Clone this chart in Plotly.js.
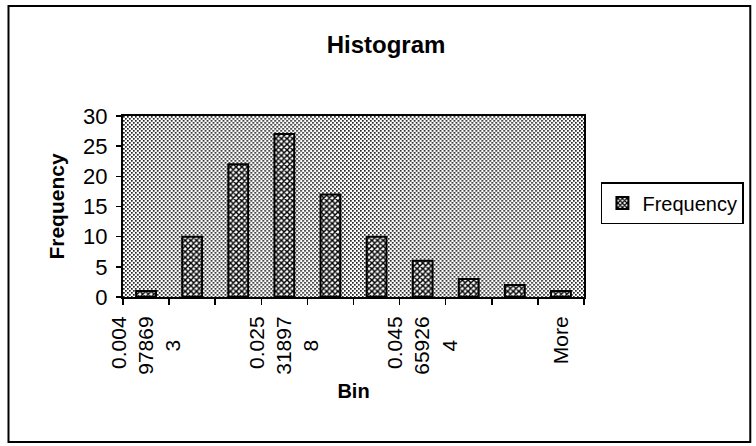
<!DOCTYPE html>
<html>
<head>
<meta charset="utf-8">
<script src="https://cdn.plot.ly/plotly-3.0.1.min.js"></script>
<style>
  html, body { margin: 0; padding: 0; background: #fff; }
  #chart { width: 756px; height: 446px; }
</style>
</head>
<body>
<div id="chart"></div>
<script>
// ---- data ----
var bins = ["0.004978693", "0.011758788", "0.018538883", "0.025318978", "0.032099073",
            "0.038879169", "0.045659264", "0.052439359", "0.059219454", "More"];
var frequency = [1, 10, 22, 27, 17, 10, 6, 3, 2, 1];
var seriesName = "Frequency";
var chartTitle = "Histogram";
var xTitle = "Bin";
var yTitle = "Frequency";

// Excel-style wrapped tick labels (5 characters per line, short last line centred)
function wrapLabel(s) {
  if (s.length <= 5) return s;
  var parts = [];
  for (var i = 0; i < s.length; i += 5) parts.push(s.slice(i, i + 5));
  var last = parts[parts.length - 1];
  var pad = 5 - last.length; // missing digits; half of them (= pad nbsp) on the end side
  parts[parts.length - 1] = last + new Array(pad + 1).join("\u00a0");
  return parts.join("<br>");
}
var categories = bins.map(wrapLabel);

// ---- plot area geometry (pixels) ----
var L = 123, R = 586, T = 116, B = 297, W = 756, H = 446;
var pw = R - L, ph = B - T;
function px2x(p) { return (p - L) / pw; }
function py2y(p) { return (B - p) / ph; }

// stippled background for the plot area
var svg = '<svg xmlns="http://www.w3.org/2000/svg" width="' + pw + '" height="' + ph + '">' +
  '<defs><pattern id="p" width="4" height="4" patternUnits="userSpaceOnUse">' +
  '<rect width="4" height="4" fill="#ffffff"/>' +
  '<rect x="0" y="0" width="1.7" height="1.7" fill="#222"/>' +
  '<rect x="2" y="2" width="1.7" height="1.7" fill="#222"/>' +
  '</pattern></defs><rect width="100%" height="100%" fill="url(#p)"/></svg>';
var bgSrc = 'data:image/svg+xml;charset=utf-8,' + encodeURIComponent(svg);

var font = "Liberation Sans, Arial, Helvetica, sans-serif";

var trace = {
  type: "bar",
  name: seriesName,
  x: categories,
  y: frequency,
  width: 0.43,
  marker: {
    color: "#ffffff",
    line: { color: "#000", width: 2 },
    pattern: { shape: "x", size: 4, solidity: 0.6, fgcolor: "#000", bgcolor: "#ffffff" }
  },
  showlegend: true
};

var layout = {
  width: W, height: H,
  margin: { l: L, r: W - R, t: T, b: H - B, pad: 0 },
  paper_bgcolor: "#ffffff",
  plot_bgcolor: "rgba(0,0,0,0)",
  font: { family: font, color: "#000", size: 20 },
  title: {
    text: chartTitle,
    font: { family: font, size: 24, weight: "bold", color: "#000" },
    xref: "container", x: 386 / W, xanchor: "center",
    yref: "container", y: 1 - 45 / H, yanchor: "middle"
  },
  xaxis: {
    type: "category",
    tickson: "boundaries",
    ticklabelstep: 3,
    ticks: "outside", ticklen: 6, tickwidth: 1.5, tickcolor: "#000",
    tickangle: -90,
    ticklabelstandoff: 9,
    tickfont: { family: font, size: 21, color: "#000" },
    showline: true, mirror: true, linecolor: "#000", linewidth: 2,
    showgrid: false, zeroline: false,
    automargin: false,
    title: { text: xTitle, font: { family: font, size: 20, weight: "bold", color: "#000" }, standoff: 10 }
  },
  yaxis: {
    range: [0, 30],
    dtick: 5,
    ticks: "outside", ticklen: 5, tickwidth: 1.5, tickcolor: "#000",
    ticklabelstandoff: 4,
    tickfont: { family: font, size: 22, color: "#000" },
    showline: true, mirror: true, linecolor: "#000", linewidth: 2,
    showgrid: false, zeroline: false,
    automargin: false,
    title: { text: yTitle, font: { family: font, size: 21, weight: "bold", color: "#000" }, standoff: 13 }
  },
  bargap: 0.57,
  legend: {
    x: px2x(603), xanchor: "left",
    y: py2y(203), yanchor: "middle",
    bordercolor: "#000", borderwidth: 1.5, bgcolor: "#fff",
    font: { family: font, size: 20, color: "#000" }
  },
  images: [{
    source: bgSrc, xref: "paper", yref: "paper",
    x: 0, y: 1, sizex: 1, sizey: 1, xanchor: "left", yanchor: "top",
    sizing: "stretch", layer: "below"
  }],
  shapes: [{
    type: "rect", xref: "paper", yref: "paper",
    x0: px2x(8), x1: px2x(753), y0: py2y(442), y1: py2y(6),
    line: { color: "#000", width: 2 }, fillcolor: "rgba(0,0,0,0)", layer: "below"
  }]
};

Plotly.newPlot("chart", [trace], layout, { displayModeBar: false, staticPlot: true });
</script>
</body>
</html>
